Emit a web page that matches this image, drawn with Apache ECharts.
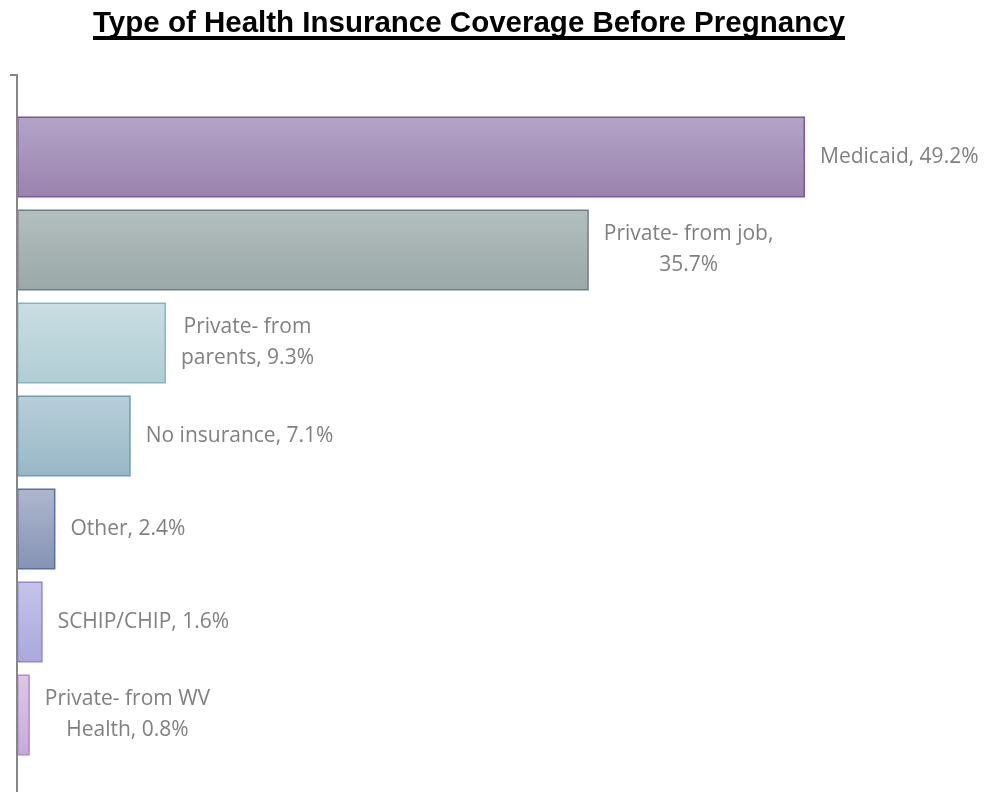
<!DOCTYPE html>
<html>
<head>
<meta charset="utf-8">
<script src="https://cdn.jsdelivr.net/npm/echarts@6/dist/echarts.min.js"></script>
<style>html,body{margin:0;padding:0;background:#fff;}#c{width:985px;height:792px;}</style>
</head>
<body>
<div id="c"></div>
<script>
const categories = ["Medicaid", "Private- from job", "Private- from parents", "No insurance", "Other", "SCHIP/CHIP", "Private- from WV Health"];
const labelLines = [["Medicaid, 49.2%"], ["Private- from job,", "35.7%"], ["Private- from", "parents, 9.3%"], ["No insurance, 7.1%"], ["Other, 2.4%"], ["SCHIP/CHIP, 1.6%"], ["Private- from WV", "Health, 0.8%"]];
const values = [49.2, 35.7, 9.3, 7.1, 2.4, 1.6, 0.8];
const topColors = ["#b4a4c8", "#b4bebe", "#c9dee3", "#b8cfd9", "#aeb7cd", "#c6c4eb", "#dcc8e7"];
const bottomColors = ["#9a82ad", "#9aa8a8", "#b0cdd4", "#97b7c6", "#8592b4", "#aaa7dd", "#c8a9d8"];
const borderColors = ["#7a5898", "#6b8081", "#8cb2bc", "#6f9cb2", "#5b6e9d", "#8f88cf", "#b08bc6"];

const chart = echarts.init(document.getElementById('c'), null, {renderer: 'canvas'});
const data = values.map((v, i) => ({
  value: v,
  itemStyle: {
    color: new echarts.graphic.LinearGradient(0, 0, 0, 1, [
      {offset: 0, color: topColors[i]}, {offset: 1, color: bottomColors[i]}
    ]),
    borderColor: borderColors[i],
    borderWidth: 1.5
  }
}));
chart.setOption({
  animation: false,
  grid: {left: 17, right: 7, top: 110.5, height: 651, containLabel: false},
  xAxis: {type: 'value', min: 0, max: 60, show: false},
  yAxis: {type: 'category', data: categories, inverse: true, show: false},
  series: [{
    type: 'bar',
    data: data,
    barCategoryGap: '12.9%',
    label: {
      show: true,
      position: 'right',
      distance: 15,
      formatter: p => labelLines[p.dataIndex].map(s => '{c|' + s + '}').join('\n'),
      rich: {c: {align: 'center', fontFamily: 'Open Sans', fontSize: 21, color: '#808080', lineHeight: 31}}
    }
  }],
  graphic: [
    {type: 'polyline', shape: {points: [[10, 75], [17, 75], [17, 792]]}, style: {stroke: '#868686', lineWidth: 2, fill: null}, z: 10},
    {type: 'text', x: 469, y: 23.5, style: {text: 'Type of Health Insurance Coverage Before Pregnancy', font: 'bold 29.5px "Liberation Sans", Arial', fill: '#000', align: 'center', verticalAlign: 'middle'}},
    {type: 'rect', shape: {x: 93, y: 36, width: 752, height: 4}, style: {fill: '#000'}}
  ]
});
</script>
</body>
</html>
